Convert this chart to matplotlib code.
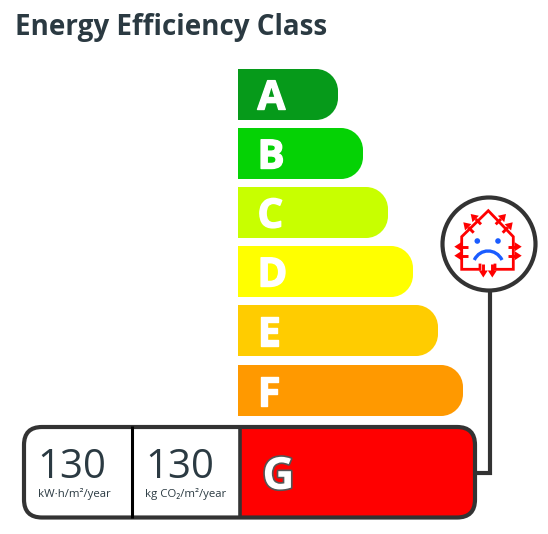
import numpy as np
import matplotlib
matplotlib.use('Agg')
import matplotlib.pyplot as plt
import matplotlib.patheffects as pe
from matplotlib.path import Path
from matplotlib.patches import PathPatch, Circle, FancyBboxPatch, Rectangle, Polygon

plt.rcParams['font.family'] = ['Open Sans', 'Noto Sans', 'DejaVu Sans']

title = 'Energy Efficiency Class'
classes = ['A', 'B', 'C', 'D', 'E', 'F']
bar_right = [338, 363, 388, 413, 438, 463]
bar_top = [69, 128, 187, 246, 305, 365]
bar_colors = ['#069a1a', '#05d205', '#c8ff00', '#ffff00', '#ffcc00', '#ff9900']
values = ['130', '130']
units = ['kW\u00b7h/m\u00b2/year', 'kg CO\u2082/m\u00b2/year']
current_class = 'G'

TXT = '#2b3a42'
DARK = '#333333'
RED = '#ff0000'
BLUE = '#1a5cff'
BAR_H = 51
BAR_X = 238
R = 22

fig = plt.figure(figsize=(5.48, 5.34), dpi=100)
ax = fig.add_axes([0, 0, 1, 1])
ax.set_xlim(0, 548)
ax.set_ylim(534, 0)
ax.axis('off')


def right_round(x0, x1, y0, h, r):
    k = 0.5523 * r
    y1 = y0 + h
    verts = [(x0, y0), (x1 - r, y0), (x1 - r + k, y0), (x1, y0 + r - k), (x1, y0 + r),
             (x1, y1 - r), (x1, y1 - r + k), (x1 - r + k, y1), (x1 - r, y1), (x0, y1), (x0, y0)]
    codes = [Path.MOVETO, Path.LINETO, Path.CURVE4, Path.CURVE4, Path.CURVE4,
             Path.LINETO, Path.CURVE4, Path.CURVE4, Path.CURVE4, Path.LINETO, Path.CLOSEPOLY]
    return Path(verts, codes)


def red_arrow(a, b, head=7.0, half=4.5):
    a = np.array(a, float)
    b = np.array(b, float)
    d = (b - a) / np.linalg.norm(b - a)
    n = np.array([-d[1], d[0]])
    base = b - d * head
    ax.plot([a[0], base[0]], [a[1], base[1]], color=RED, lw=2.1, zorder=3, solid_capstyle='butt')
    ax.add_patch(Polygon([b, base + n * half, base - n * half], fc=RED, ec='none', zorder=3))


ax.text(15, 28, title, fontsize=20, fontweight='bold', color=TXT, va='center', ha='left')

heavy = [pe.withStroke(linewidth=1, foreground='white')]
for c, xr, yt, col in zip(classes, bar_right, bar_top, bar_colors):
    ax.add_patch(PathPatch(right_round(BAR_X, xr, yt, BAR_H, R), fc=col, ec='none'))
    t = ax.text(257.5, yt + 40.5, c, fontsize=29, fontweight='bold', color='white', ha='left', va='baseline')
    t.set_path_effects(heavy)

# bottom box
box = FancyBboxPatch((24, 427), 451, 90.5, boxstyle='round,pad=0,rounding_size=18',
                     fc='white', ec='none', zorder=2)
ax.add_patch(box)
red = Rectangle((240, 425), 240, 94, fc=RED, ec='none', zorder=3)
ax.add_patch(red)
red.set_clip_path(box)
ax.add_patch(FancyBboxPatch((24, 427), 451, 90.5, boxstyle='round,pad=0,rounding_size=18',
                            fc='none', ec=DARK, lw=3, zorder=4))
ax.plot([131.5, 131.5], [426, 518], color='black', lw=2.2, zorder=4, solid_capstyle='butt')
ax.plot([240, 240], [426, 518], color=DARK, lw=2.6, zorder=4, solid_capstyle='butt')

for cx, ux, v, u in zip([72, 180], [74, 186], values, units):
    ax.text(cx, 478, v, fontsize=29, color=TXT, ha='center', va='baseline', zorder=5)
    ax.text(ux, 497, u, fontsize=8.2, color=TXT, ha='center', va='baseline', zorder=5)

g = ax.text(278.5, 489, current_class, fontsize=32, fontweight='bold', color='white',
            ha='center', va='baseline', zorder=5)
g.set_path_effects([pe.withStroke(linewidth=2.4, foreground='#555555')])

# connector + badge
ax.plot([476, 490, 490], [473, 473, 290], color=DARK, lw=3, zorder=1, solid_joinstyle='miter')
ax.add_patch(Circle((489, 244), 46.5, fc='white', ec=DARK, lw=3, zorder=2))

# house icon, coords in px
ax.plot([480, 480, 461.7, 461.7, 488.3, 513.3, 513.3, 495, 495],
        [265, 269.3, 269.3, 236.7, 210.7, 236.7, 269.3, 269.3, 265],
        color=RED, lw=2, zorder=3, solid_joinstyle='miter')

arrows = [((481, 224.3), (470.7, 214)), ((473.7, 232.7), (463.3, 222.3)),
          ((495.7, 224.3), (506, 214)), ((502.7, 232.7), (512.7, 222.3)),
          ((468, 246.7), (454.3, 246.7)), ((468, 255.7), (454.3, 255.7)),
          ((508, 246.7), (521.7, 246.7)), ((508, 255.7), (521.7, 255.7)),
          ((483.3, 264), (483.3, 277.5)), ((492.3, 264), (492.3, 277.5))]
for a, b in arrows:
    red_arrow(a, b)

ax.add_patch(Circle((477.3, 241), 2.8, fc=BLUE, ec='none', zorder=3))
ax.add_patch(Circle((498, 241), 2.8, fc=BLUE, ec='none', zorder=3))
ax.add_patch(PathPatch(Path([(474.3, 260), (480, 248), (496, 248), (502, 260)],
                            [Path.MOVETO, Path.CURVE4, Path.CURVE4, Path.CURVE4]),
                       fc='none', ec=BLUE, lw=2.4, zorder=3))

fig.savefig('out.png', dpi=100)
